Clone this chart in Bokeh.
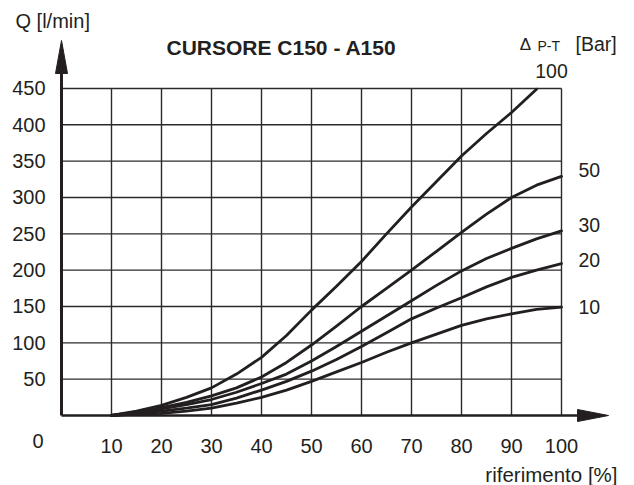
from bokeh.plotting import figure
from bokeh.models import Range1d, ColumnDataSource
from bokeh.core.properties import value
from bokeh.embed import file_html
from bokeh.resources import INLINE

# ---------------- data ----------------
x_pct = [10, 15, 20, 25, 30, 35, 40, 45, 50, 55, 60, 65, 70, 75, 80, 85, 90, 95, 100]
x_pct_100 = [10, 15, 20, 25, 30, 35, 40, 45, 50, 55, 60, 65, 70, 75, 80, 85, 90, 95]
q_100 = [0, 6, 14, 25, 38, 57, 80, 110, 145, 178, 212, 250, 287, 322, 357, 388, 417, 449]
q_50 = [0, 5, 11, 18, 27, 38, 53, 73, 97, 123, 150, 175, 200, 226, 252, 277, 300, 317, 329]
q_30 = [0, 4, 9, 15, 22, 32, 44, 57, 75, 95, 116, 137, 158, 179, 199, 216, 230, 243, 254]
q_20 = [0, 3, 6, 10, 15, 24, 35, 47, 61, 77, 95, 114, 133, 148, 162, 177, 190, 200, 209]
q_10 = [0, 2, 3, 6, 10, 17, 25, 35, 47, 60, 73, 87, 100, 112, 124, 133, 140, 146, 149]
curve_names = ["50", "30", "20", "10"]
top_curve_name = "100"
x_ticks = [10, 20, 30, 40, 50, 60, 70, 80, 90, 100]
y_ticks = [50, 100, 150, 200, 250, 300, 350, 400, 450]
x_tick_labels = [str(v) for v in x_ticks]
y_tick_labels = [str(v) for v in y_ticks]
origin_label = "0"
title_text = "CURSORE C150 - A150"
y_title = "Q [l/min]"
x_title = "riferimento [%]"
legend_title = ["\u0394", "P-T", "[Bar]"]

# ---------------- layout (pixel helpers) ----------------
W, H = 634, 485
SX = 5.0          # px per x unit
SY = 0.7267       # px per y unit
X0_PX, Y0_PX = 61, 415   # pixel position of the data origin


def dx(px):
    return (px - X0_PX) / SX


def dy(py):
    return (Y0_PX - py) / SY


INK = "#231f20"
FONT = "Liberation Sans"

p = figure(width=W, height=H, output_backend="svg", toolbar_location=None,
           title=None, x_axis_location=None, y_axis_location=None,
           x_range=Range1d(dx(0), dx(W)), y_range=Range1d(dy(H), dy(0)),
           min_border=0)
p.outline_line_color = None
p.background_fill_color = "white"
p.border_fill_color = "white"
p.grid.visible = False

# grid
gx_top = y_ticks[-1]
gy_right = x_ticks[-1]
p.segment(x0=x_ticks, y0=[0] * len(x_ticks), x1=x_ticks, y1=[gx_top] * len(x_ticks),
          line_color="#2a2a2a", line_width=1.4)
p.segment(x0=[0] * len(y_ticks), y0=y_ticks, x1=[gy_right] * len(y_ticks), y1=y_ticks,
          line_color="#2a2a2a", line_width=1.4)

# axes with arrows
y_tip, y_base = dy(40), dy(73)
x_tip, x_base = dx(608), dx(577)
p.segment(x0=[0], y0=[0], x1=[0], y1=[y_base], line_color=INK, line_width=3)
p.segment(x0=[0], y0=[0], x1=[x_base], y1=[0], line_color=INK, line_width=2.6)
hw_x = 6 / SX
hw_y = 6 / SY
p.patch(x=[-hw_x, 0, hw_x], y=[y_base, y_tip, y_base], fill_color=INK, line_color=INK)
p.patch(x=[x_base, x_tip, x_base], y=[-hw_y, 0, hw_y], fill_color=INK, line_color=INK)

# curves
for xs, ys in ((x_pct_100, q_100), (x_pct, q_50), (x_pct, q_30), (x_pct, q_20), (x_pct, q_10)):
    p.line(xs, ys, line_color=INK, line_width=2.8, line_join="round", line_cap="round")


def txt(xs, ys, texts, size="20px", align="left", baseline="middle", style="normal"):
    src = ColumnDataSource(dict(x=list(xs), y=list(ys), t=list(texts)))
    p.text(x="x", y="y", text="t", source=src,
           text_font=value(FONT), text_font_size=size, text_color=INK,
           text_align=align, text_baseline=baseline, text_font_style=style)


# tick labels
txt([dx(45)] * len(y_ticks), y_ticks, y_tick_labels, align="right")
txt(x_ticks, [dy(445)] * len(x_ticks), x_tick_labels, align="center")
txt([dx(37.5)], [dy(440)], [origin_label], align="center")

# curve labels
txt([dx(578)] * len(curve_names), [dy(v) for v in (169.5, 224.5, 259.5, 306.5)],
    curve_names, size="19.5px")
txt([dx(551)], [dy(70)], [top_curve_name], size="19.5px", align="center")

# titles
txt([dx(15)], [dy(20)], [y_title])
txt([dx(166)], [dy(47)], [title_text], size="21px", style="bold")
txt([dx(525)], [dy(44)], [legend_title[0]], size="17px", align="center")
txt([dx(537)], [dy(45)], [legend_title[1]], size="14px")
txt([dx(575)], [dy(43)], [legend_title[2]], size="19.5px")
txt([dx(617)], [dy(474)], [x_title], size="20.5px", align="right")

open("out.html", "w").write(file_html(p, INLINE))
